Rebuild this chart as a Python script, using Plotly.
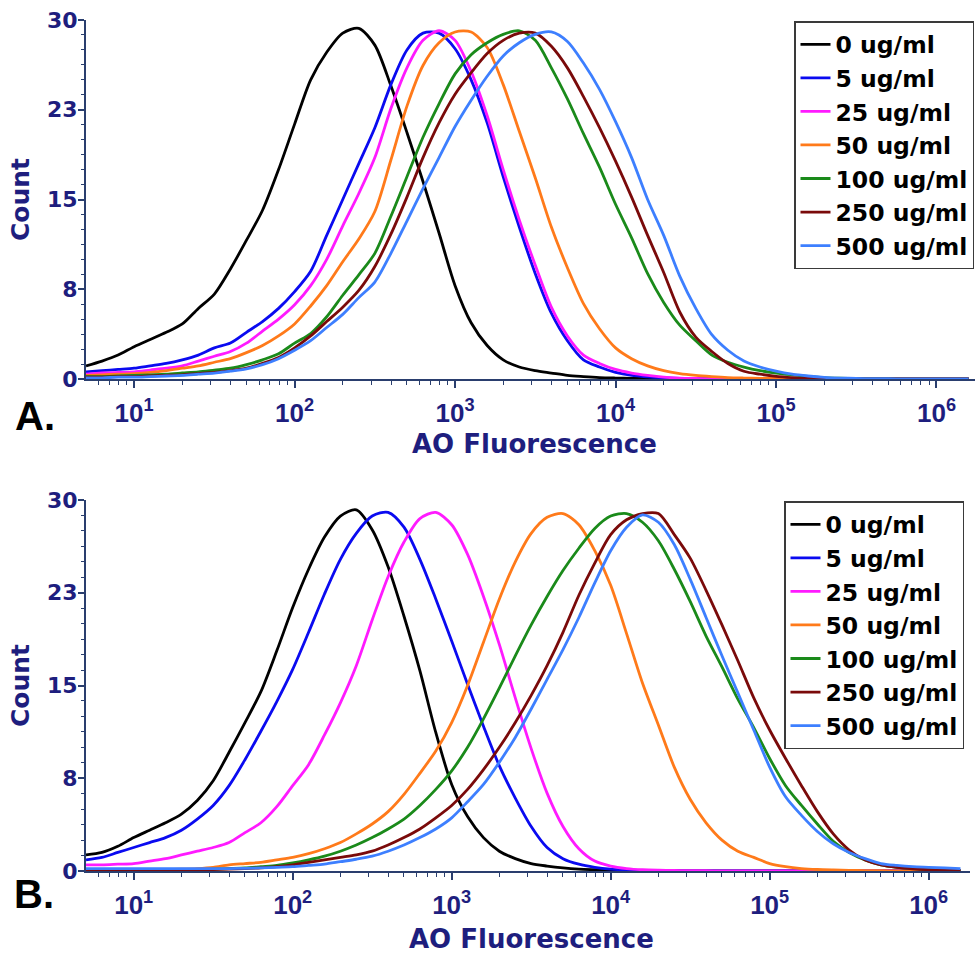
import plotly.graph_objects as go

# ---------------- data ----------------
# bin positions: log10(AO fluorescence)
LOG_FL = [0.7, 0.8, 0.9,
          1.0, 1.1, 1.2, 1.3, 1.4, 1.5, 1.6, 1.7, 1.8, 1.9,
          2.0, 2.1, 2.2, 2.3, 2.4, 2.5, 2.6, 2.7, 2.8, 2.9,
          3.0, 3.1, 3.2, 3.3, 3.4, 3.5, 3.6, 3.7, 3.8, 3.9,
          4.0, 4.1, 4.2, 4.3, 4.4, 4.5, 4.6, 4.7, 4.8, 4.9,
          5.0, 5.1, 5.2, 5.3, 5.4, 5.5, 5.6, 5.7, 5.8, 5.9,
          6.0, 6.1, 6.2]
FL = [10 ** v for v in LOG_FL]

LABELS = ["0 ug/ml", "5 ug/ml", "25 ug/ml", "50 ug/ml",
          "100 ug/ml", "250 ug/ml", "500 ug/ml"]
COLORS = ["#000000", "#0a0af0", "#ff1aff", "#ff7a1a",
          "#1a8a1a", "#7a0a0a", "#3d7fff"]

# Panel A
A_0 = [1.1, 1.5, 2.0,
       2.7, 3.3, 3.9, 4.6, 5.9, 7.1, 9.2, 11.6, 14.1, 17.5,
       21.3, 25.0, 27.3, 28.9, 29.3, 27.9, 24.5, 20.6, 16.5, 12.2,
       7.8, 4.7, 2.8, 1.6, 1.0, 0.7, 0.5, 0.3, 0.2, 0.12,
       0.08, 0.05, 0.04, 0.03, 0.02, 0.02, 0.02, 0.01, 0.01, 0.01,
       0.01, 0.01, 0.01, 0.01, 0.01, 0.01, 0.01, 0.01, 0.01, 0.01,
       0.01, 0.01, 0.01]
A_5 = [0.6, 0.7, 0.8,
       0.9, 1.1, 1.3, 1.6, 2.0, 2.6, 3.0, 3.9, 4.8, 5.9,
       7.3, 9.0, 12.0, 15.0, 18.0, 21.0, 24.6, 27.5, 28.9, 28.9,
       27.6, 25.0, 21.4, 16.9, 12.7, 8.8, 5.5, 3.2, 1.6, 1.0,
       0.55, 0.3, 0.18, 0.1, 0.05, 0.04, 0.03, 0.02, 0.02, 0.01,
       0.01, 0.01, 0.01, 0.01, 0.01, 0.01, 0.01, 0.01, 0.01, 0.01,
       0.01, 0.01, 0.01]
A_25 = [0.4, 0.5, 0.55,
        0.6, 0.75, 0.9, 1.1, 1.5, 1.9, 2.3, 3.0, 4.0, 5.0,
        6.2, 7.8, 10.0, 12.8, 15.5, 18.5, 22.6, 26.0, 28.3, 29.1,
        28.3, 25.7, 22.0, 17.5, 13.3, 9.5, 6.0, 3.6, 2.0, 1.3,
        0.8, 0.5, 0.3, 0.15, 0.08, 0.05, 0.03, 0.02, 0.02, 0.01,
        0.01, 0.01, 0.01, 0.01, 0.01, 0.01, 0.01, 0.01, 0.01, 0.01,
        0.01, 0.01, 0.01]
A_50 = [0.3, 0.35, 0.4,
        0.45, 0.55, 0.7, 0.9, 1.1, 1.4, 1.7, 2.2, 2.8, 3.6,
        4.6, 6.1, 7.8, 9.8, 11.7, 14.0, 18.3, 22.8, 26.2, 28.1,
        29.0, 29.0, 27.7, 24.6, 20.7, 16.8, 12.7, 9.3, 6.3, 4.2,
        2.6, 1.7, 1.1, 0.7, 0.45, 0.3, 0.2, 0.12, 0.08, 0.05,
        0.04, 0.03, 0.02, 0.02, 0.01, 0.01, 0.01, 0.01, 0.01, 0.01,
        0.01, 0.01, 0.01]
A_100 = [0.2, 0.2, 0.25,
         0.3, 0.35, 0.4, 0.5, 0.6, 0.75, 0.9, 1.2, 1.6, 2.1,
         3.0, 3.8, 5.2, 7.0, 8.7, 10.5, 13.6, 16.9, 20.2, 23.0,
         25.5, 27.1, 28.1, 28.8, 29.1, 28.3, 26.0, 23.4, 20.5, 17.7,
         14.6, 11.8, 8.8, 6.4, 4.5, 3.2, 2.0, 1.4, 1.0, 0.7,
         0.5, 0.35, 0.22, 0.12, 0.07, 0.04, 0.03, 0.02, 0.01, 0.01,
         0.01, 0.01, 0.01]
A_250 = [0.15, 0.15, 0.2,
         0.2, 0.25, 0.3, 0.35, 0.45, 0.55, 0.7, 0.9, 1.3, 1.8,
         2.6, 3.6, 4.8, 6.0, 7.4, 9.4, 12.1, 15.2, 18.5, 21.4,
         23.8, 25.6, 27.2, 28.3, 28.9, 28.9, 27.8, 26.0, 23.6, 21.0,
         18.2, 15.2, 12.0, 8.9, 5.6, 3.5, 2.3, 1.3, 0.65, 0.4,
         0.22, 0.12, 0.06, 0.04, 0.03, 0.02, 0.01, 0.01, 0.01, 0.01,
         0.01, 0.01, 0.01]
A_500 = [0.1, 0.1, 0.15,
         0.15, 0.2, 0.25, 0.3, 0.4, 0.5, 0.65, 0.85, 1.2, 1.7,
         2.4, 3.2, 4.3, 5.4, 6.8, 8.1, 10.5, 13.2, 15.9, 18.5,
         21.1, 23.3, 25.3, 27.0, 28.1, 28.8, 29.0, 28.2, 26.4, 24.2,
         21.5, 18.5, 15.0, 12.0, 8.6, 5.9, 3.7, 2.4, 1.5, 1.0,
         0.65, 0.4, 0.25, 0.14, 0.08, 0.05, 0.03, 0.02, 0.01, 0.01,
         0.01, 0.01, 0.01]

# Panel B
B_0 = [1.3, 1.5, 2.0,
       2.7, 3.3, 3.9, 4.6, 5.7, 7.3, 9.6, 12.0, 14.5, 17.8,
       21.3, 24.4, 27.0, 28.7, 29.2, 27.6, 24.6, 20.6, 16.2, 11.2,
       7.0, 4.4, 2.7, 1.6, 1.0, 0.6, 0.4, 0.25, 0.15, 0.1,
       0.06, 0.04, 0.03, 0.02, 0.02, 0.01, 0.01, 0.01, 0.01, 0.01,
       0.01, 0.01, 0.01, 0.01, 0.01, 0.01, 0.01, 0.01, 0.01, 0.01,
       0.01, 0.01, 0.01]
B_5 = [0.9, 1.1, 1.5,
       1.9, 2.3, 2.7, 3.3, 4.2, 5.3, 6.9, 9.0, 11.3, 13.7,
       16.3, 19.3, 22.4, 25.2, 27.3, 28.7, 29.0, 27.8, 25.2, 22.0,
       18.6, 15.1, 11.7, 8.5, 5.9, 3.6, 1.9, 1.0, 0.55, 0.3,
       0.15, 0.08, 0.05, 0.03, 0.02, 0.01, 0.01, 0.01, 0.01, 0.01,
       0.01, 0.01, 0.01, 0.01, 0.01, 0.01, 0.01, 0.01, 0.01, 0.01,
       0.01, 0.01, 0.01]
B_25 = [0.5, 0.5, 0.55,
        0.6, 0.8, 1.0, 1.3, 1.6, 1.9, 2.3, 3.1, 3.9, 5.2,
        6.9, 8.6, 11.0, 13.6, 16.6, 20.3, 23.8, 26.6, 28.5, 29.0,
        28.0, 25.6, 22.2, 18.3, 14.0, 9.9, 6.3, 3.6, 1.8, 0.8,
        0.4, 0.2, 0.1, 0.06, 0.04, 0.03, 0.02, 0.01, 0.01, 0.01,
        0.01, 0.01, 0.01, 0.01, 0.01, 0.01, 0.01, 0.01, 0.01, 0.01,
        0.01, 0.01, 0.01]
B_50 = [0.05, 0.05, 0.06,
        0.08, 0.1, 0.12, 0.15, 0.2, 0.3, 0.5, 0.6, 0.7, 0.9,
        1.1, 1.4, 1.8, 2.3, 3.0, 3.8, 4.8, 6.2, 7.9, 9.7,
        12.0, 15.0, 18.5, 22.0, 25.0, 27.3, 28.6, 28.9, 28.0, 25.9,
        23.1, 19.2, 15.2, 11.8, 8.4, 5.8, 3.9, 2.5, 1.6, 1.1,
        0.6, 0.35, 0.2, 0.12, 0.08, 0.05, 0.03, 0.02, 0.01, 0.01,
        0.01, 0.01, 0.01]
B_100 = [0.05, 0.05, 0.05,
         0.06, 0.07, 0.08, 0.1, 0.12, 0.15, 0.2, 0.25, 0.35, 0.45,
         0.65, 0.9, 1.2, 1.6, 2.1, 2.7, 3.4, 4.2, 5.3, 6.6,
         8.1, 10.0, 12.3, 14.8, 17.4, 19.9, 22.2, 24.3, 26.1, 27.7,
         28.7, 28.9, 28.2, 26.7, 24.4, 21.8, 19.0, 16.5, 13.9, 11.6,
         9.1, 6.9, 5.3, 3.8, 2.4, 1.5, 0.9, 0.5, 0.3, 0.2,
         0.12, 0.08, 0.05]
B_250 = [0.05, 0.05, 0.05,
         0.05, 0.06, 0.07, 0.08, 0.1, 0.12, 0.15, 0.2, 0.25, 0.35,
         0.5, 0.7, 0.9, 1.1, 1.3, 1.6, 2.1, 2.7, 3.4, 4.3,
         5.3, 6.6, 8.2, 10.0, 12.0, 14.2, 16.6, 19.3, 22.3, 24.9,
         27.2, 28.4, 28.9, 28.9, 27.2, 25.3, 22.7, 19.9, 17.0, 14.0,
         11.4, 9.1, 6.9, 4.8, 3.0, 1.7, 0.9, 0.5, 0.3, 0.18,
         0.1, 0.06, 0.04]
B_500 = [0.2, 0.2, 0.2,
         0.2, 0.2, 0.2, 0.2, 0.2, 0.2, 0.2, 0.22, 0.25, 0.3,
         0.35, 0.45, 0.55, 0.75, 0.95, 1.2, 1.6, 2.1, 2.7, 3.4,
         4.3, 5.6, 7.0, 8.8, 10.8, 13.1, 15.5, 17.9, 20.5, 23.3,
         25.9, 27.8, 28.8, 28.2, 26.4, 23.6, 20.5, 17.4, 14.4, 11.4,
         8.4, 6.0, 4.5, 3.2, 2.2, 1.5, 1.0, 0.6, 0.45, 0.35,
         0.3, 0.25, 0.2]

PANEL_A = [A_0, A_5, A_25, A_50, A_100, A_250, A_500]
PANEL_B = [B_0, B_5, B_25, B_50, B_100, B_250, B_500]

Y_TICKS = [0, 7.5, 15, 22.5, 30]
Y_TICKTEXT = ["0", "8", "15", "23", "30"]
X_TICKS = [10, 100, 1000, 10000, 100000, 1000000]
X_TICKTEXT = ["10<sup>1</sup>", "10<sup>2</sup>", "10<sup>3</sup>",
              "10<sup>4</sup>", "10<sup>5</sup>", "10<sup>6</sup>"]
X_TITLE = "AO Fluorescence"
Y_TITLE = "Count"

# ---------------- styling ----------------
W, H = 978, 958
NAVY = "#1e1e7e"
AXC = "#2a3e6e"
FONT = "DejaVu Sans"
XFONT = "Liberation Sans, Arial, sans-serif"

minor_x = [m * 10 ** k for k in range(0, 7) for m in range(2, 10)]

fig = go.Figure()
for vals, name, col in zip(PANEL_A, LABELS, COLORS):
    fig.add_trace(go.Scatter(x=FL, y=vals, name=name, mode="lines",
                             line=dict(color=col, width=2.8, shape="spline", smoothing=0.8),
                             xaxis="x", yaxis="y", legend="legend"))
for vals, name, col in zip(PANEL_B, LABELS, COLORS):
    fig.add_trace(go.Scatter(x=FL, y=vals, name=name, mode="lines",
                             line=dict(color=col, width=2.8, shape="spline", smoothing=0.8),
                             xaxis="x2", yaxis="y2", legend="legend2"))


def xaxis_style(domain, rng, anchor):
    return dict(
        type="log", domain=domain, range=rng, anchor=anchor,
        showline=True, linecolor=AXC, linewidth=2, mirror=False,
        showgrid=False, zeroline=False,
        ticks="outside", ticklen=7, tickwidth=1.5, tickcolor=AXC,
        tickvals=X_TICKS, ticktext=X_TICKTEXT, ticklabelstandoff=3,
        tickfont=dict(family=XFONT, size=26, color=NAVY, weight="bold"),
        minor=dict(tickvals=minor_x, ticks="outside", ticklen=4,
                   tickwidth=1.2, tickcolor=AXC),
    )


def yaxis_style(domain, anchor):
    return dict(
        domain=domain, range=[0, 30], anchor=anchor,
        showline=True, linecolor=AXC, linewidth=2,
        showgrid=False, zeroline=False,
        ticks="outside", ticklen=6, tickwidth=1.5, tickcolor=AXC,
        tickvals=Y_TICKS, ticktext=Y_TICKTEXT, ticklabelstandoff=-4,
        tickfont=dict(family=FONT, size=22, color=NAVY, weight="bold"),
        minor=dict(dtick=1.25, ticks="outside", ticklen=3.5,
                   tickwidth=1, tickcolor=AXC),
        title=dict(text=Y_TITLE, standoff=10,
                   font=dict(family=FONT, size=25, color=NAVY, weight="bold")),
    )


def legend_style(x, y):
    return dict(x=x, y=y, xanchor="left", yanchor="top",
                bgcolor="white", bordercolor="#3a3a3a", borderwidth=1.5,
                font=dict(family=FONT, size=23.5, color="black", weight="bold"),
                tracegroupgap=0, itemwidth=30)


def title_note(text, x, y):
    return dict(text=text, x=x / W, y=1 - y / H, xref="paper", yref="paper",
                showarrow=False, xanchor="center", yanchor="middle",
                font=dict(family=FONT, size=26, color=NAVY, weight="bold"))


def panel_note(text, x, y):
    return dict(text=text, x=x / W, y=1 - y / H, xref="paper", yref="paper",
                showarrow=False, xanchor="center", yanchor="middle",
                font=dict(family="Liberation Sans, Arial", size=40, color="black",
                          weight="bold"))


fig.update_layout(
    width=W, height=H,
    margin=dict(l=0, r=0, t=0, b=0, autoexpand=False),
    paper_bgcolor="white", plot_bgcolor="white",
    xaxis=xaxis_style([86 / W, 975 / W], [0.7, 6.24], "y"),
    yaxis=yaxis_style([1 - 379 / H, 1 - 20 / H], "x"),
    xaxis2=xaxis_style([86 / W, 970 / W], [0.7, 6.26], "y2"),
    yaxis2=yaxis_style([1 - 871 / H, 1 - 500 / H], "x2"),
    legend=legend_style(794 / W, 1 - 21 / H),
    legend2=legend_style(784 / W, 1 - 501 / H),
    showlegend=True,
    annotations=[
        title_note(X_TITLE, 534, 444),
        title_note(X_TITLE, 531, 939),
        panel_note("A.", 35, 416),
        panel_note("B.", 34, 894),
    ],
)

fig.write_html("out.html", config={"displayModeBar": False},
               post_script="document.body.style.margin='0px';")
